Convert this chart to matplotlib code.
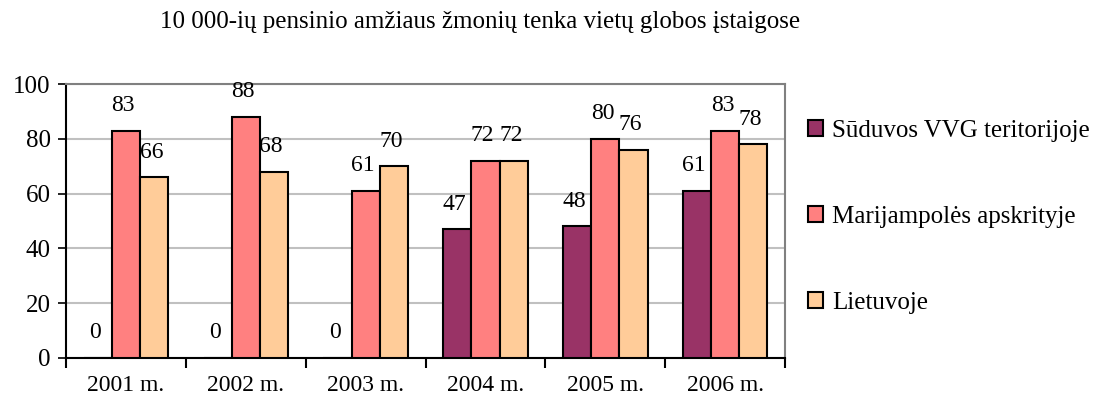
import matplotlib
matplotlib.use('Agg')
import matplotlib.pyplot as plt
import numpy as np

years = ['2001 m.', '2002 m.', '2003 m.', '2004 m.', '2005 m.', '2006 m.']
suduvos = [0, 0, 0, 47, 48, 61]
marijampole = [83, 88, 61, 72, 80, 83]
lietuva = [66, 68, 70, 72, 76, 78]
series_names = ['Sūduvos VVG teritorijoje', 'Marijampolės apskrityje', 'Lietuvoje']
colors = ['#993366', '#FF8080', '#FFCC99']

plt.rcParams['font.family'] = ['Liberation Serif', 'DejaVu Serif']

fig = plt.figure(figsize=(10.95, 4.07), dpi=100)
ax = fig.add_axes([0.0603, 0.1204, 0.6567, 0.6732])

x = np.arange(len(years))
w = 0.235
handles = []
for i, (vals, col) in enumerate(zip([suduvos, marijampole, lietuva], colors)):
    pos = x + (i - 1) * w
    b = ax.bar(pos, vals, w, color=col, edgecolor='black', linewidth=1.5, zorder=3)
    handles.append(b)
    for p, v in zip(pos, vals):
        ax.annotate(str(v), (p, v), xytext=(-2, 18), textcoords='offset points',
                    ha='center', va='center', fontsize=17)

ax.set_xlim(-0.5, len(years) - 0.5)
ax.set_ylim(0, 100)
ax.set_yticks(range(0, 101, 20))
ax.tick_params(axis='y', labelsize=18, length=6, width=1.2, pad=5)
ax.set_xticks(x)
ax.set_xticklabels(years, fontsize=17)
ax.tick_params(axis='x', length=0, pad=12)
ax.set_xticks(np.arange(-0.5, len(years), 1), minor=True)
ax.tick_params(axis='x', which='minor', length=7, width=1.5)
ax.yaxis.grid(True, color='#c0c0c0', linewidth=1.5, zorder=0)
for s in ['top', 'right']:
    ax.spines[s].set_color('#808080')
    ax.spines[s].set_linewidth(1.5)
for s in ['left', 'bottom']:
    ax.spines[s].set_linewidth(1.5)

fig.text(0.438, 0.946, '10 000-ių pensinio amžiaus žmonių tenka vietų globos įstaigose',
         ha='center', va='center', fontsize=18)

leg = fig.legend(handles, series_names, loc='upper left', bbox_to_anchor=(0.738, 0.705),
                 frameon=False, fontsize=18, handlelength=0.6, handleheight=0.6,
                 handletextpad=0.35, labelspacing=2.55, borderaxespad=0, borderpad=0)

fig.savefig('out.png', dpi=100)
